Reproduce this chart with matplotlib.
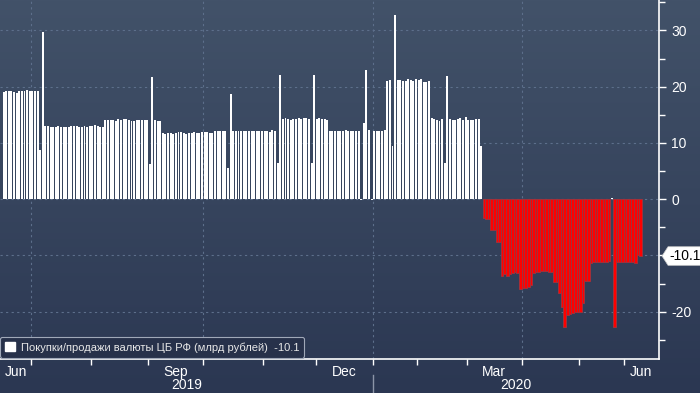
import numpy as np
import pandas as pd
import matplotlib
matplotlib.use("Agg")
import matplotlib.pyplot as plt
import matplotlib.transforms as mtransforms
from matplotlib.patches import Patch, Polygon
from matplotlib.colors import LinearSegmentedColormap

plt.rcParams['font.family'] = ['Liberation Sans', 'DejaVu Sans']

# дневные покупки/продажи валюты, млрд руб., по месяцам (рабочие дни РФ)
jun19 = [19.0, 19.2, 19.2, 19.2, 19.0, 18.9, 19.2, 19.2, 19.2, 19.4, 19.2]
jul19 = [19.2, 19.2, 19.2, 8.7, 29.7, 13.0, 13.0, 12.8, 12.8, 12.8, 13.0, 12.8,
         12.8, 12.8, 12.8, 13.0, 13.0, 13.0, 12.8, 12.8, 13.0, 12.8, 13.0]
aug19 = [13.0, 13.2, 13.0, 12.8, 12.8, 14.1, 14.1, 14.1, 14.1, 13.9, 14.2, 14.1,
         14.2, 14.2, 14.1, 13.9, 13.9, 14.1, 14.1, 14.1, 14.1, 14.1]
sep19 = [6.3, 21.7, 14.1, 13.9, 13.9, 11.8, 11.6, 11.8, 11.8, 11.6, 11.8, 11.9,
         11.9, 11.8, 11.6, 11.8, 11.8, 11.9, 11.8, 11.8, 11.9]
oct19 = [11.9, 11.9, 11.8, 11.8, 12.1, 12.1, 12.1, 12.1, 12.1, 5.6, 18.7, 12.1,
         12.1, 12.1, 12.1, 12.1, 12.1, 12.1, 12.1, 12.1, 12.1, 12.1, 12.1]
nov19 = [12.1, 12.1, 11.9, 12.3, 12.1, 6.4, 22.0, 14.2, 14.4, 14.2, 14.1, 14.2,
         14.2, 14.4, 14.2, 14.4, 14.4, 14.2, 6.4, 22.0]
dec19 = [14.2, 14.4, 14.2, 14.2, 14.1, 12.1, 12.1, 12.1, 12.1, 12.1, 12.1, 12.3,
         12.1, 12.1, 12.1, 12.1, 12.1, -0.2, 13.5, 22.9, 12.3, -0.2]
jan20 = [12.1, 12.1, 12.1, 12.1, 12.3, 21.0, 21.2, 9.5, 32.7, 21.2, 21.2, 21.0,
         21.0, 21.3, 21.2, 21.0, 21.3]
feb20 = [21.2, 21.3, 20.8, 20.8, 21.0, 14.4, 14.2, 14.1, 13.9, 14.2, 6.4, 21.9,
         14.2, 14.1, 14.1, 14.2, 14.4, 14.1, 14.6]
mar20 = [14.1, 14.1, 14.1, 14.2, 14.2, 9.5, -3.4, -3.5, -3.6, -5.4, -5.4, -7.6,
         -7.6, -13.6, -13.3, -13.6, -13.3, -13.1, -13.0, -13.1, -16.0]
apr20 = [-15.8, -15.8, -15.6, -15.3, -13.2, -13.0, -12.9, -12.7, -12.7, -12.7,
         -12.9, -12.9, -14.7, -14.7, -16.6, -19.1, -22.8, -20.5, -20.4, -20.2,
         -20.1, -20.1]
may20 = [-20.1, -18.4, -14.6, -14.5, -11.3, -11.2, -11.2, -11.2, -11.2, -11.1,
         -11.1, -10.9, 0.2, -22.7, -11.1, -11.2, -11.2]
jun20 = [-11.2, -11.2, -11.2, -11.2, -11.3, -10.0, -10.1]

holidays = ['2019-11-04', '2020-01-01', '2020-01-02', '2020-01-03', '2020-01-06',
            '2020-01-07', '2020-01-08', '2020-02-24', '2020-03-09', '2020-05-01',
            '2020-05-04', '2020-05-05', '2020-05-11']
dates = pd.bdate_range('2019-06-14', '2020-06-09', freq='C', holidays=holidays)

values = np.array(jun19 + jul19 + aug19 + sep19 + oct19 + nov19 + dec19 +
                  jan20 + feb20 + mar20 + apr20 + may20 + jun20)
n = min(len(values), len(dates))
values = values[:n]
dates = dates[:n]
x = np.arange(n)

legend_label = 'Покупки/продажи валюты ЦБ РФ (млрд рублей)  -10.1'
last_label = '-10.1'

fig = plt.figure(figsize=(7, 3.93), dpi=100)

# градиентный фон
bg = fig.add_axes([0, 0, 1, 1], zorder=-10)
cmap = LinearSegmentedColormap.from_list('bg', ['#425269', '#2b3752'])
bg.imshow(np.linspace(0, 1, 256).reshape(-1, 1), aspect='auto', cmap=cmap,
          extent=[0, 1, 0, 1])
bg.axis('off')

ax = fig.add_axes([0, 34 / 393, 659 / 700, 359 / 393])
ax.patch.set_alpha(0)

xmin, xmax = -1.38, 251.1
ax.set_xlim(xmin, xmax)
ax.set_ylim(-28.4, 35.4)

pos = values > -1
ax.bar(x[pos], values[pos], width=0.75, color='white', zorder=3)
ax.bar(x[~pos], values[~pos], width=1.0, color='#ff0000', edgecolor='#a3303a',
       linewidth=0.7, zorder=3)

grid_kw = dict(color='#5d6f8b', lw=0.8, ls=(0, (2, 3)))
ax.set_axisbelow(True)
ax.set_yticks(np.arange(-20, 31, 10))
ax.set_yticks(np.arange(-25, 36, 10), minor=True)
ax.yaxis.grid(True, which='major', **grid_kw)
ax.yaxis.tick_right()
ax.set_yticklabels(['-20', '', '0', '10', '20', '30'])
ax.tick_params(axis='y', which='major', colors='white', labelsize=10,
               length=5, width=1, pad=4)
ax.tick_params(axis='y', which='minor', colors='white', length=4, width=1)

# месяцы: засечки на границах, подписи по центру видимой части месяца
months = dates.to_period('M')
starts = np.r_[0, np.flatnonzero(months[1:] != months[:-1]) + 1]
ends = np.r_[starts[1:] - 1, n - 1]
bounds = starts[1:] - 0.5
ax.set_xticks(bounds)
ax.set_xticklabels([])
centers, labels = [], []
for k, (s, e) in enumerate(zip(starts, ends)):
    m = months[s]
    if m.month in (3, 6, 9, 12):
        lo = xmin if k == 0 else s - 0.5
        hi = xmax if k == len(starts) - 1 else e + 0.5
        centers.append((lo + hi) / 2)
        labels.append(m.strftime('%b'))
    if m.month in (1, 4, 7, 10) and s > 0:
        ax.axvline(s - 0.5, zorder=1, **grid_kw)
ax.set_xticks(centers, minor=True)
ax.set_xticklabels(labels, minor=True)
ax.tick_params(axis='x', which='major', colors='white', length=4, width=1)
ax.tick_params(axis='x', which='minor', colors='white', length=0, pad=4,
               labelsize=10)

trans = mtransforms.blended_transform_factory(ax.transData, ax.transAxes)
years = dates.year
uyears = np.unique(years)
for k, yr in enumerate(uyears):
    idx = np.flatnonzero(years == yr)
    lo = xmin if k == 0 else idx[0] - 0.5
    hi = xmax if k == len(uyears) - 1 else idx[-1] + 0.5
    ax.text((lo + hi) / 2, -0.073, str(yr), transform=trans, ha='center',
            va='center', color='white', fontsize=10)
    if k > 0:
        ax.plot([idx[0] - 0.5] * 2, [-0.045, -0.1], transform=trans,
                color='#8c95a8', lw=1, clip_on=False)

for side in ['left', 'top']:
    ax.spines[side].set_visible(False)
for side in ['right', 'bottom']:
    ax.spines[side].set_color('white')
    ax.spines[side].set_linewidth(1.2)

# метка последнего значения
ytrans = mtransforms.blended_transform_factory(ax.transAxes, ax.transData)
last = values[-1]
h = 1.65
tag = Polygon([(1.0046, last), (1.0137, last + h), (1.08, last + h),
               (1.08, last - h), (1.0137, last - h)], closed=True,
              transform=ytrans, facecolor='white', edgecolor='#cccccc',
              lw=0.5, clip_on=False, zorder=10)
ax.add_patch(tag)
ax.text(1.016, last, last_label, transform=ytrans, ha='left', va='center',
        color='black', fontsize=10, zorder=11, clip_on=False)

handle = Patch(facecolor='white', edgecolor='white')
leg = ax.legend([handle], [legend_label], loc='lower left',
                bbox_to_anchor=(0.0, 0.004), frameon=True, fancybox=True,
                facecolor='#27314a', edgecolor='#a0a8b8', fontsize=8,
                handlelength=0.9, handleheight=0.9, handletextpad=0.5,
                borderpad=0.45, borderaxespad=0)
leg.get_frame().set_alpha(1)
leg.get_frame().set_linewidth(0.8)
leg.set_zorder(12)
for t in leg.get_texts():
    t.set_color('#e8e8e8')

fig.savefig('out.png', dpi=100)
